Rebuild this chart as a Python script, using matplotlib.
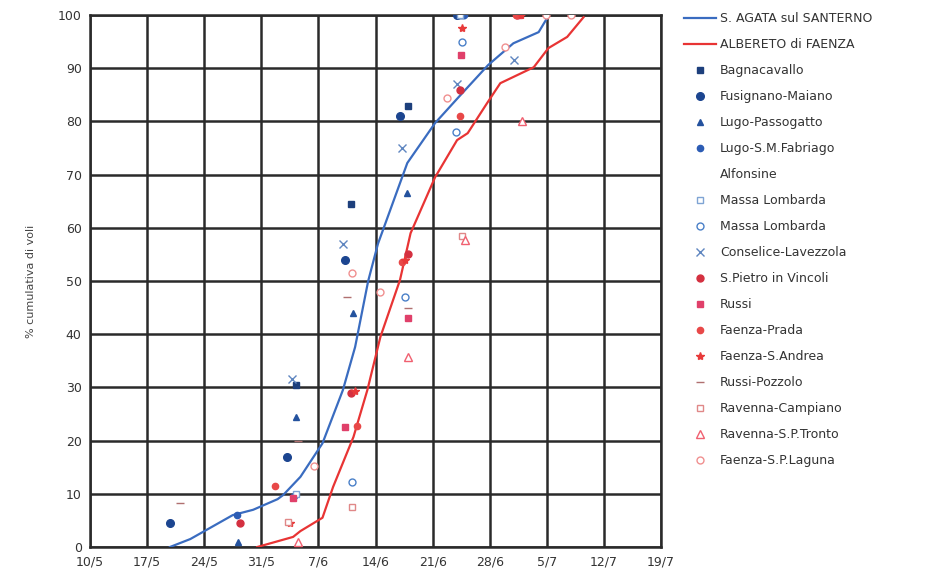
import matplotlib
matplotlib.use("Agg")
import matplotlib.pyplot as plt

# giorni dal 10/5
tick_days = [0, 7, 14, 21, 28, 35, 42, 49, 56, 63, 70]
tick_labels = ["10/5", "17/5", "24/5", "31/5", "7/6", "14/6", "21/6", "28/6", "5/7", "12/7", "19/7"]

# curve cumulative
agata_x = [9.8, 12.3, 17.5, 20.0, 23.0, 23.7, 25.8, 28.5, 31.0, 32.5, 34.1, 35.3, 38.9, 42.3, 45.2, 48.8, 51.9, 55.0, 56.1]
agata_y = [0, 1.5, 6.0, 7.0, 9.0, 9.8, 13.2, 19.5, 29.5, 37.6, 50.0, 57.0, 72.2, 79.7, 84.6, 90.6, 94.7, 96.8, 99.6]

alberetto_x = [20.5, 24.9, 25.8, 28.5, 29.8, 32.3, 34.0, 35.6, 38.0, 39.3, 42.3, 45.0, 46.3, 48.7, 50.3, 54.4, 56.2, 58.5, 60.5]
alberetto_y = [0, 1.9, 3.0, 5.5, 11.3, 20.7, 29.5, 39.5, 50.2, 59.0, 69.5, 76.5, 77.8, 83.5, 87.2, 90.2, 93.8, 95.9, 99.6]

# stazioni di monitoraggio
bagnacavallo_x = [25.3, 32.0, 39.0, 45.4]
bagnacavallo_y = [30.5, 64.5, 83.0, 100]
fusignano_x = [9.8, 24.2, 31.3, 38.0, 45.0]
fusignano_y = [4.5, 17.0, 54.0, 81.0, 100]
lugo_pass_x = [18.2, 25.2, 32.2, 38.9, 45.6]
lugo_pass_y = [1.0, 24.5, 44.0, 66.5, 100]
lugo_smf_x = [18.0, 25.0, 45.8]
lugo_smf_y = [6.0, 9.5, 100]
alfonsine_x = []
alfonsine_y = []
massa_sq_x = [25.3, 45.4]
massa_sq_y = [10.0, 100]
massa_ci_x = [32.1, 38.6, 44.9, 45.6]
massa_ci_y = [12.2, 47.0, 78.0, 95.0]
conselice_x = [24.8, 31.0, 38.2, 45.0, 52.0]
conselice_y = [31.5, 57.0, 75.0, 87.0, 91.5]
spietro_x = [18.4, 32.0, 39.0, 45.4, 52.4]
spietro_y = [4.5, 29.0, 55.0, 86.0, 100]
russi_x = [24.9, 31.3, 39.0, 45.5, 52.6]
russi_y = [9.2, 22.5, 43.0, 92.5, 100]
prada_x = [22.7, 32.7, 38.3, 45.4, 52.2]
prada_y = [11.5, 22.8, 53.6, 81.0, 100]
sandrea_x = [24.5, 32.5, 38.6, 45.6, 52.8]
sandrea_y = [4.5, 29.3, 54.0, 97.5, 100]
pozzolo_x = [11.0, 25.5, 31.5, 39.0]
pozzolo_y = [8.3, 20.0, 47.0, 45.0]
campiano_x = [24.3, 32.1, 45.6]
campiano_y = [4.7, 7.5, 58.5]
tronto_x = [25.5, 39.0, 46.0, 53.0]
tronto_y = [1.0, 35.7, 57.7, 80.0]
laguna_x = [27.4, 32.1, 35.6, 43.8, 50.9, 55.9, 59.0]
laguna_y = [15.2, 51.5, 48.0, 84.4, 94.0, 100, 100]

fig = plt.figure(figsize=(9.25, 5.81), dpi=100)
ax = fig.add_axes([0.0973, 0.0585, 0.6173, 0.9155])

ax.plot(agata_x, agata_y, color="#3a6cc0", lw=1.6, label="S. AGATA sul SANTERNO", zorder=3)
ax.plot(alberetto_x, alberetto_y, color="#e83434", lw=1.6, label="ALBERETO di FAENZA", zorder=3)

def punti(x, y, label, marker, color, size=5, filled=True):
    ax.plot(x, y, ls="none", marker=marker, ms=size, color=color,
            mfc=color if filled else "white", mec=color, mew=1.0,
            label=label, zorder=4)

punti(bagnacavallo_x, bagnacavallo_y, "Bagnacavallo", "s", "#1d3f7c", 4.5)
punti(fusignano_x, fusignano_y, "Fusignano-Maiano", "o", "#1c4590", 5.5)
punti(lugo_pass_x, lugo_pass_y, "Lugo-Passogatto", "^", "#24529e", 5)
punti(lugo_smf_x, lugo_smf_y, "Lugo-S.M.Fabriago", "o", "#2c5cb4", 4.5)
punti(alfonsine_x, alfonsine_y, "Alfonsine", "None", "white")
punti(massa_sq_x, massa_sq_y, "Massa Lombarda", "s", "#7fa4d4", 5, False)
punti(massa_ci_x, massa_ci_y, "Massa Lombarda", "o", "#4a80c8", 5, False)
punti(conselice_x, conselice_y, "Conselice-Lavezzola", "x", "#5f86c0", 6)
punti(spietro_x, spietro_y, "S.Pietro in Vincoli", "o", "#d43040", 5)
punti(russi_x, russi_y, "Russi", "s", "#e0406a", 4.5)
punti(prada_x, prada_y, "Faenza-Prada", "o", "#e84848", 4.5)
punti(sandrea_x, sandrea_y, "Faenza-S.Andrea", "*", "#e83a3a", 6)
punti(pozzolo_x, pozzolo_y, "Russi-Pozzolo", "_", "#b07070", 6)
punti(campiano_x, campiano_y, "Ravenna-Campiano", "s", "#e08888", 5, False)
punti(tronto_x, tronto_y, "Ravenna-S.P.Tronto", "^", "#f06070", 5.5, False)
punti(laguna_x, laguna_y, "Faenza-S.P.Laguna", "o", "#f09090", 5, False)

ax.set_xlim(0, 70)
ax.set_ylim(0, 100)
ax.set_xticks(tick_days)
ax.set_xticklabels(tick_labels)
ax.set_yticks(range(0, 101, 10))
ax.tick_params(length=0, labelsize=9, colors="#333333", pad=6)
ax.grid(True, color="#2a2a2a", lw=1.8)
ax.set_axisbelow(True)
for s in ax.spines.values():
    s.set_color("#2a2a2a")
    s.set_linewidth(1.8)
ax.set_ylabel("% cumulativa di voli", fontsize=8, color="#444444", labelpad=16)

leg = fig.legend(loc="upper left", bbox_to_anchor=(0.734, 0.988), frameon=False,
                 fontsize=9, labelspacing=1.04, handlelength=2.6, handletextpad=0.3,
                 borderaxespad=0)
for t in leg.get_texts():
    t.set_color("#333333")

fig.savefig("out.png", dpi=100)
